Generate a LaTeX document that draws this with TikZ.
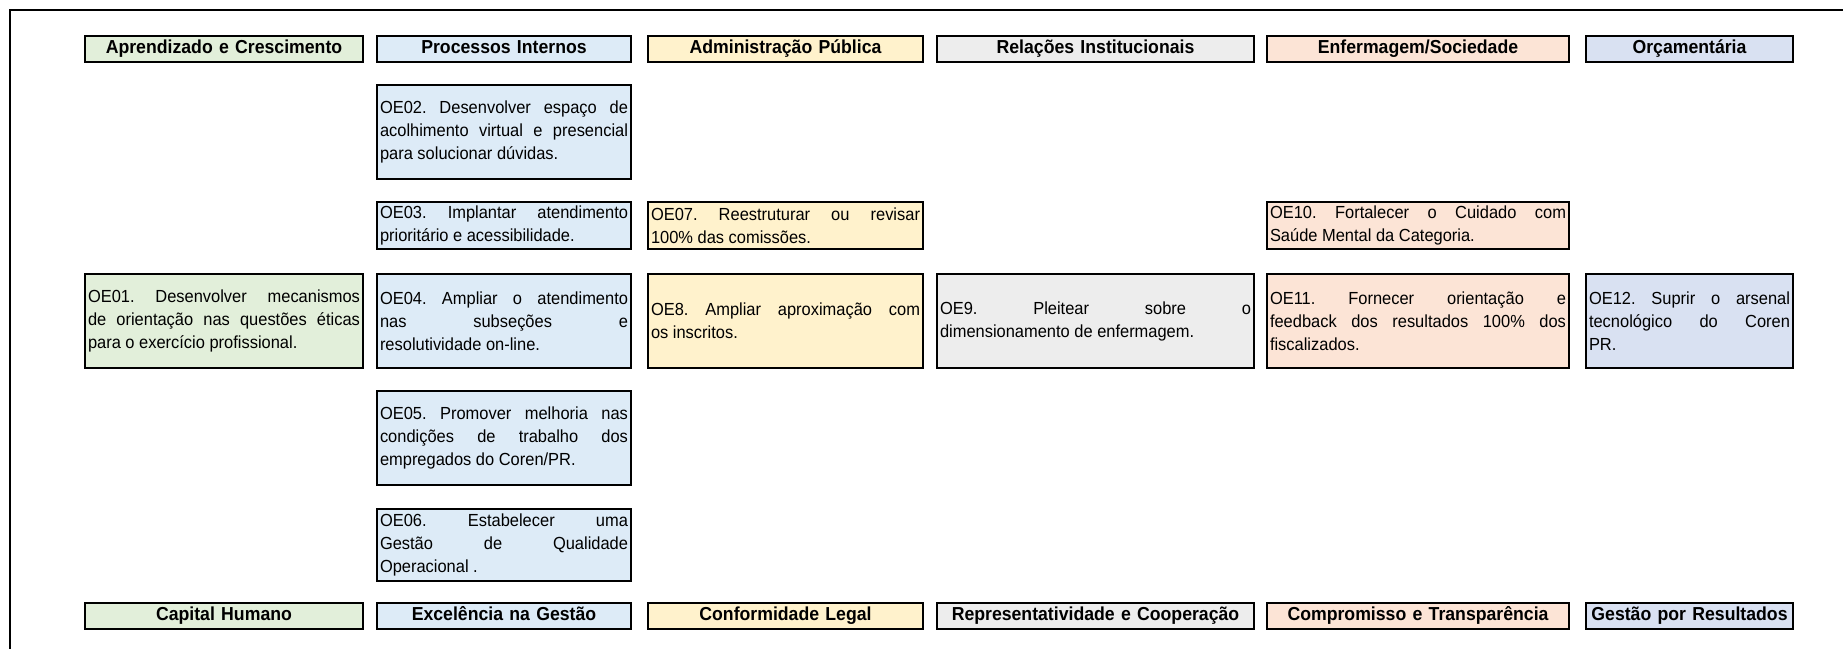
\documentclass[tikz,border=0pt]{standalone}
\usepackage{fontspec}
\setmainfont[FakeStretch=0.94]{Liberation Sans}
\usetikzlibrary{positioning}

\definecolor{verdeA}{HTML}{E2EFDA}
\definecolor{azulP}{HTML}{DDEBF7}
\definecolor{amareloA}{HTML}{FFF2CC}
\definecolor{cinzaR}{HTML}{EDEDED}
\definecolor{salmaoE}{HTML}{FCE4D6}
\definecolor{lilasO}{HTML}{D9E1F2}

\setlength{\parindent}{0pt}
\frenchspacing
\tolerance=10000 \hbadness=10000 \hyphenpenalty=10000 \exhyphenpenalty=10000

\begin{document}
\begin{tikzpicture}[x=1pt,y=-1pt,every node/.style={outer sep=0pt},
 caixa/.style={draw,line width=2pt,anchor=north west,inner sep=0pt,inner xsep=3pt},
 titulo/.style={caixa,align=center,minimum height=26pt,text height=13.5pt,text depth=4pt,
  font=\fontsize{18.8}{22}\selectfont\bfseries},
 objetivo/.style={caixa,align=justify,font=\fontsize{17.5}{23}\selectfont},
 colA/.style={fill=verdeA,minimum width=278pt,text width=272pt},
 colB/.style={fill=azulP,minimum width=254pt,text width=248pt},
 colC/.style={fill=amareloA,minimum width=275pt,text width=269pt},
 colD/.style={fill=cinzaR,minimum width=317pt,text width=311pt},
 colE/.style={fill=salmaoE,minimum width=302pt,text width=296pt},
 colF/.style={fill=lilasO,minimum width=207pt,text width=201pt}]

\useasboundingbox (0,0) rectangle (1843,649);
\draw[line width=2pt] (1843,10) -- (10,10) -- (10,649);

% perspectivas
\node[titulo,colA] (tAprend) at (85,36) {Aprendizado e Crescimento};
\node[titulo,colB] (tProc)   at (377,36) {Processos Internos};
\node[titulo,colC] (tAdm)    at (648,36) {Administração Pública};
\node[titulo,colD] (tRel)    at (937,36) {Relações Institucionais};
\node[titulo,colE] (tEnf)    at (1267,36) {Enfermagem/Sociedade};
\node[titulo,colF] (tOrc)    at (1586,36) {Orçamentária};

% objetivos
\node[objetivo,colB,minimum height=94pt] (oe02) at (377,85)
 {OE02. Desenvolver espaço de\linebreak acolhimento virtual e presencial\linebreak para solucionar dúvidas.};
\node[objetivo,colB,minimum height=47pt] (oe03) at (377,202)
 {OE03. Implantar atendimento\linebreak prioritário e acessibilidade.};
\node[objetivo,colC,minimum height=47pt] (oe07) at (648,202)
 {OE07. Reestruturar ou revisar\linebreak 100\% das comissões.};
\node[objetivo,colE,minimum height=47pt] (oe10) at (1267,202)
 {OE10. Fortalecer o Cuidado com\linebreak Saúde Mental da Categoria.};

\node[objetivo,colA,minimum height=94pt] (oe01) at (85,274)
 {OE01. Desenvolver mecanismos\linebreak de orientação nas questões éticas\linebreak para o exercício profissional.};
\node[objetivo,colB,minimum height=94pt] (oe04) at (377,274)
 {OE04. Ampliar o atendimento\linebreak nas subseções e\linebreak resolutividade on-line.};
\node[objetivo,colC,minimum height=94pt] (oe08) at (648,274)
 {OE8. Ampliar aproximação com\linebreak os inscritos.};
\node[objetivo,colD,minimum height=94pt] (oe09) at (937,274)
 {OE9. Pleitear sobre o\linebreak dimensionamento de enfermagem.};
\node[objetivo,colE,minimum height=94pt] (oe11) at (1267,274)
 {OE11. Fornecer orientação e\linebreak feedback dos resultados 100\% dos\linebreak fiscalizados.};
\node[objetivo,colF,minimum height=94pt] (oe12) at (1586,274)
 {OE12. Suprir o arsenal\linebreak tecnológico do Coren\linebreak PR.};

\node[objetivo,colB,minimum height=94pt] (oe05) at (377,391)
 {OE05. Promover melhoria nas\linebreak condições de trabalho dos\linebreak empregados do Coren/PR.};
\node[objetivo,colB,minimum height=72pt] (oe06) at (377,509)
 {OE06. Estabelecer uma\linebreak Gestão de Qualidade\linebreak Operacional .};

% temas
\node[titulo,colA] (bCap)  at (85,603) {Capital Humano};
\node[titulo,colB] (bExc)  at (377,603) {Excelência na Gestão};
\node[titulo,colC] (bConf) at (648,603) {Conformidade Legal};
\node[titulo,colD] (bRep)  at (937,603) {Representatividade e Cooperação};
\node[titulo,colE] (bComp) at (1267,603) {Compromisso e Transparência};
\node[titulo,colF] (bGest) at (1586,603) {Gestão por Resultados};

\end{tikzpicture}
\end{document}
